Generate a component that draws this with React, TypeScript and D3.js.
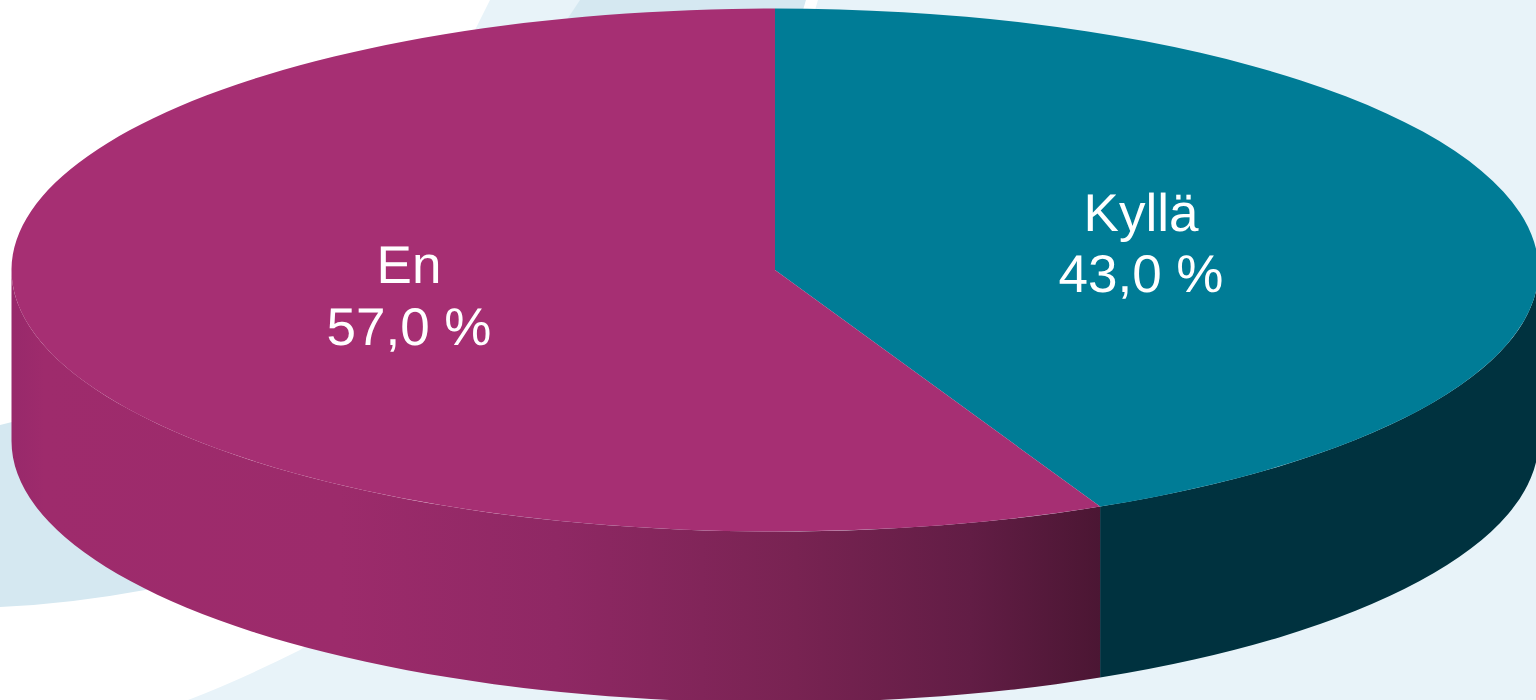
import React from "react";
import * as d3 from "d3";

const categories = ["Kyllä", "En"];
const values = [43.0, 57.0];
const topColors = ["#007C96", "#A62F73"];
const valueLabels = ["43,0 %", "57,0 %"];

const W = 1536, H = 700;
const cx = 775, cy = 270, rx = 763.5, ry = 261.5, depth = 171;

const gradStops: [number, string][] = [
  [0, "#98296B"], [0.03, "#9E2B6C"], [0.3, "#9C2B6B"], [0.5, "#8F2864"],
  [0.72, "#782352"], [0.88, "#621D45"], [1, "#4B1633"],
];

const pie = d3.pie<number>().sort(null).value((d) => d);
const arcs = pie(values);
const px = (a: number) => cx + rx * Math.sin(a);
const py = (a: number) => cy - ry * Math.cos(a);

function topPath(a0: number, a1: number) {
  const large = a1 - a0 > Math.PI ? 1 : 0;
  return `M${cx},${cy}L${px(a0)},${py(a0)}A${rx},${ry} 0 ${large} 1 ${px(a1)},${py(a1)}Z`;
}
function sidePath(a0: number, a1: number) {
  const s = Math.max(a0, Math.PI / 2), e = Math.min(a1, (3 * Math.PI) / 2);
  if (e <= s) return "";
  return `M${px(s)},${py(s)}A${rx},${ry} 0 0 1 ${px(e)},${py(e)}L${px(e)},${py(e) + depth}A${rx},${ry} 0 0 0 ${px(s)},${py(s) + depth}Z`;
}

const labelPos = [
  { x: 1141, y: [231, 292] },
  { x: 409, y: [283, 345] },
];

export default function App() {
  return (
    <svg width={W} height={H} style={{ position: "fixed", left: 0, top: 0, display: "block" }}>
      <defs>
        <linearGradient id="side" gradientUnits="userSpaceOnUse" x1={12} x2={1101} y1={0} y2={0}>
          {gradStops.map(([o, c]) => <stop key={o} offset={o} stopColor={c} />)}
        </linearGradient>
      </defs>
      <rect width={W} height={H} fill="#fff" />
      <path d="M490,0 L440,100 L440,400 L520,500 L300,650 Q240,680 188,700 L1536,700 L1536,0 Z" fill="#E8F3F9" />
      <path d="M580,0 L540,60 L800,60 L806,0 Z" fill="#D5E8F1" />
      <path d="M806,0 L800,20 L812,20 L818,0 Z" fill="#fff" />
      <path d="M0,425 L60,410 L300,560 L145,590 Q70,604 0,607 Z" fill="#D5E8F1" />
      <path d={sidePath(arcs[0].startAngle, arcs[0].endAngle)} fill="#00323F" />
      <path d={sidePath(arcs[1].startAngle, arcs[1].endAngle)} fill="url(#side)" />
      {arcs.map((a, i) => (
        <path key={categories[i]} d={topPath(a.startAngle, a.endAngle)} fill={topColors[i]} />
      ))}
      {categories.map((c, i) => (
        <text key={c} x={labelPos[i].x} textAnchor="middle" fill="#fff" fontFamily="Liberation Sans" fontSize={53} textRendering="geometricPrecision">
          <tspan x={labelPos[i].x} y={labelPos[i].y[0]}>{c}</tspan>
          <tspan x={labelPos[i].x} y={labelPos[i].y[1]}>{valueLabels[i]}</tspan>
        </text>
      ))}
    </svg>
  );
}
